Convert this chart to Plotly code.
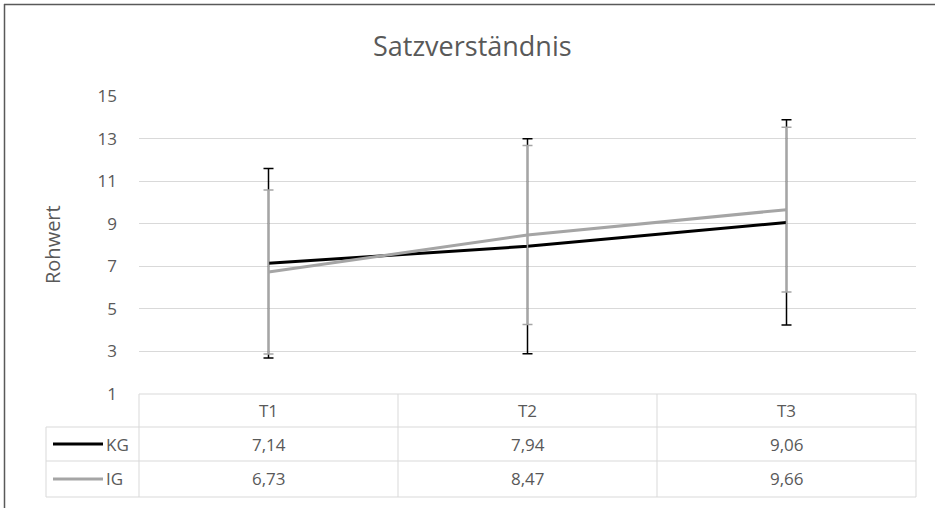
import plotly.graph_objects as go

# ---- data ----
categories = ["T1", "T2", "T3"]
series_names = ["KG", "IG"]
kg_values = [7.14, 7.94, 9.06]
ig_values = [6.73, 8.47, 9.66]
kg_sd = [4.45, 5.05, 4.82]
ig_sd = [3.85, 4.21, 3.87]
y_ticks = [1, 3, 5, 7, 9, 11, 13, 15]

title_text = "Satzverständnis"
y_title = "Rohwert"

W, H = 935, 508
L, R, T, B = 139, 916, 96, 394  # plot area in px

def px(x):
    return (x - L) / (R - L)

def py(y):
    return (B - y) / (B - T)

FONT = "Open Sans"
TXT = "#595959"
GRID = "#d9d9d9"
KG_COL = "#000000"
IG_COL = "#a5a5a5"
FS = 17

fig = go.Figure()
xs = list(range(len(categories)))
fig.add_trace(go.Scatter(
    x=xs, y=kg_values, mode="lines", name="KG",
    line=dict(color=KG_COL, width=3),
    error_y=dict(type="data", array=kg_sd, color=KG_COL, thickness=1.5, width=5),
))
fig.add_trace(go.Scatter(
    x=xs, y=ig_values, mode="lines", name="IG",
    line=dict(color=IG_COL, width=3),
    error_y=dict(type="data", array=ig_sd, color=IG_COL, thickness=1.5, width=5),
))

shapes = []
ann = []

# table geometry (px)
row_y = [394, 427, 461, 497]
tbl_left = 46
n = len(categories)
col_x = [L + i * (R - L) / n for i in range(n + 1)]

line = dict(color=GRID, width=1)
shapes.append(dict(type="line", xref="paper", yref="paper", x0=px(L), x1=px(R), y0=py(row_y[0]), y1=py(row_y[0]), line=line))
for yy in row_y[1:]:
    shapes.append(dict(type="line", xref="paper", yref="paper", x0=px(tbl_left), x1=px(R), y0=py(yy), y1=py(yy), line=line))
for xx in col_x:
    shapes.append(dict(type="line", xref="paper", yref="paper", x0=px(xx), x1=px(xx), y0=py(row_y[0]), y1=py(row_y[-1]), line=line))
shapes.append(dict(type="line", xref="paper", yref="paper", x0=px(tbl_left), x1=px(tbl_left), y0=py(row_y[1]), y1=py(row_y[-1]), line=line))

for i, c in enumerate(categories):
    ann.append(dict(text=c, xref="paper", yref="paper", x=px((col_x[i] + col_x[i + 1]) / 2),
                    y=py((row_y[0] + row_y[1]) / 2), showarrow=False, xanchor="center", yanchor="middle",
                    font=dict(family=FONT, size=FS, color=TXT)))

rows = [(series_names[0], kg_values, KG_COL), (series_names[1], ig_values, IG_COL)]
for r, (name, vals, col) in enumerate(rows):
    yc = (row_y[r + 1] + row_y[r + 2]) / 2
    shapes.append(dict(type="line", xref="paper", yref="paper", x0=px(53), x1=px(103), y0=py(yc), y1=py(yc),
                       line=dict(color=col, width=3)))
    ann.append(dict(text=name, xref="paper", yref="paper", x=px(104), y=py(yc), showarrow=False,
                    xanchor="left", yanchor="middle", font=dict(family=FONT, size=FS, color=TXT)))
    for i, v in enumerate(vals):
        ann.append(dict(text=f"{v:.2f}".replace(".", ","), xref="paper", yref="paper",
                        x=px((col_x[i] + col_x[i + 1]) / 2), y=py(yc), showarrow=False,
                        xanchor="center", yanchor="middle", font=dict(family=FONT, size=FS, color=TXT)))

ann.append(dict(text=title_text, xref="paper", yref="paper", x=px(472), y=py(46), showarrow=False,
                xanchor="center", yanchor="middle", font=dict(family=FONT, size=27, color=TXT)))
ann.append(dict(text=y_title, xref="paper", yref="paper", x=px(52), y=py(245), showarrow=False,
                textangle=-90, xanchor="center", yanchor="middle", font=dict(family=FONT, size=20, color=TXT)))

frame = dict(color="#595959", width=1.5)
shapes.append(dict(type="line", xref="paper", yref="paper", x0=px(4), x1=px(W), y0=py(4.5), y1=py(4.5), line=frame))
shapes.append(dict(type="line", xref="paper", yref="paper", x0=px(4.5), x1=px(4.5), y0=py(4), y1=py(H), line=frame))

fig.update_layout(
    width=W, height=H,
    margin=dict(l=L, r=W - R, t=T, b=H - B, pad=0),
    paper_bgcolor="white", plot_bgcolor="white",
    showlegend=False,
    shapes=shapes, annotations=ann,
    xaxis=dict(range=[-0.5, n - 0.5], showgrid=False, zeroline=False, showticklabels=False,
               showline=False, fixedrange=True),
    yaxis=dict(range=[1, 15], tickvals=y_ticks, showgrid=True, gridcolor=GRID, gridwidth=1,
               zeroline=False, showline=False, ticks="", ticklabelstandoff=21,
               tickfont=dict(family=FONT, size=FS, color=TXT)),
)

fig.write_html("out.html", config={"displayModeBar": False},
               post_script="document.body.style.margin='0';document.body.style.overflow='hidden';")
